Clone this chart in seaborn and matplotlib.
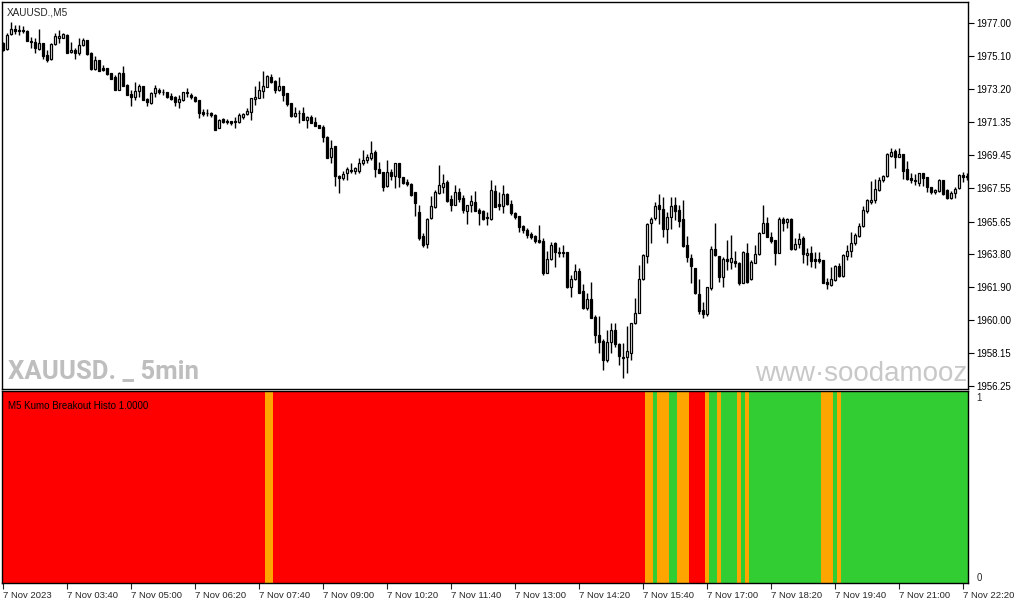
import numpy as np
import pandas as pd
import seaborn as sns
import matplotlib.pyplot as plt

# XAUUSD M5 candles, 7 Nov 2023 02:20 -> 22:25 (one bar per 5 minutes)
opens = [
    1975.88, 1975.50, 1976.35, 1976.64, 1976.60, 1976.60, 1976.54, 1975.99, 1975.90, 1975.50,
    1975.84, 1975.17, 1974.92, 1975.80, 1976.12, 1976.16, 1976.31, 1975.32, 1975.46, 1975.30,
    1975.74, 1976.03, 1975.30, 1974.35, 1974.88, 1974.45, 1974.41, 1974.12, 1973.90, 1973.17,
    1974.16, 1973.46, 1972.96, 1972.79, 1973.11, 1973.40, 1972.66, 1972.41, 1972.98, 1973.17,
    1973.08, 1973.08, 1972.83, 1972.79, 1972.50, 1972.60, 1973.04, 1972.90, 1972.79, 1972.60,
    1971.90, 1971.86, 1971.88, 1971.74, 1971.02, 1971.50, 1971.40, 1971.40, 1971.40, 1971.36,
    1971.61, 1971.78, 1971.93, 1972.67, 1972.73, 1973.13, 1973.36, 1973.93, 1973.70, 1973.17,
    1973.40, 1973.02, 1972.41, 1971.69, 1971.84, 1971.88, 1971.46, 1971.65, 1971.36, 1971.17,
    1971.07, 1970.50, 1969.32, 1969.99, 1968.26, 1968.16, 1968.41, 1968.60, 1968.54, 1968.56,
    1968.98, 1969.17, 1969.27, 1969.65, 1968.64, 1968.50, 1967.70, 1968.50, 1968.27, 1968.98,
    1968.22, 1967.93, 1967.80, 1967.36, 1966.22, 1964.83, 1964.35, 1965.84, 1966.50, 1967.27,
    1967.60, 1967.93, 1966.94, 1966.60, 1967.36, 1966.98, 1966.28, 1966.60, 1966.79, 1966.31,
    1966.26, 1965.90, 1965.78, 1967.40, 1966.66, 1966.54, 1967.21, 1966.66, 1966.12, 1965.97,
    1965.40, 1965.17, 1964.94, 1964.83, 1964.60, 1964.54, 1962.73, 1963.50, 1964.41, 1963.93,
    1963.93, 1963.93, 1961.93, 1962.37, 1962.85, 1961.69, 1960.70, 1961.23, 1960.22, 1959.17,
    1958.83, 1957.74, 1958.75, 1959.46, 1958.64, 1957.93, 1957.90, 1958.16, 1959.84, 1960.45,
    1962.35, 1963.69, 1965.55, 1965.84, 1966.60, 1966.35, 1965.21, 1965.90, 1966.60, 1966.31,
    1965.78, 1964.31, 1963.55, 1962.98, 1961.50, 1960.60, 1960.35, 1961.84, 1964.07, 1963.69,
    1962.47, 1963.50, 1963.36, 1963.40, 1963.27, 1962.16, 1963.88, 1962.35, 1963.30, 1963.80,
    1965.02, 1965.59, 1964.75, 1964.60, 1963.88, 1965.78, 1965.65, 1965.78, 1964.07, 1964.37,
    1964.70, 1963.74, 1963.84, 1963.50, 1963.50, 1963.46, 1962.22, 1962.03, 1962.31, 1963.11,
    1962.56, 1963.70, 1963.99, 1964.41, 1964.83, 1965.40, 1966.28, 1966.79, 1966.88, 1967.46,
    1968.00, 1968.26, 1969.42, 1969.69, 1969.36, 1969.51, 1968.64, 1968.12, 1968.03, 1967.88,
    1968.41, 1968.18, 1967.60, 1967.36, 1967.42, 1968.03, 1967.46, 1966.98, 1967.27, 1967.55,
    1968.31, 1968.26,
]
highs = [
    1975.93, 1976.41, 1977.08, 1976.88, 1976.88, 1976.85, 1976.58, 1976.22, 1976.16, 1976.66,
    1975.84, 1975.46, 1975.84, 1976.41, 1976.60, 1976.41, 1976.35, 1975.93, 1975.55, 1976.12,
    1976.12, 1976.03, 1975.32, 1975.13, 1974.90, 1974.60, 1974.41, 1974.14, 1974.03, 1974.22,
    1974.56, 1973.50, 1973.17, 1973.65, 1973.50, 1973.40, 1972.70, 1973.04, 1973.46, 1973.27,
    1973.23, 1973.08, 1972.98, 1972.83, 1972.89, 1973.08, 1973.27, 1973.02, 1972.83, 1972.60,
    1972.07, 1972.07, 1971.93, 1971.78, 1971.50, 1971.59, 1971.50, 1971.40, 1971.61, 1971.84,
    1971.88, 1972.12, 1972.73, 1973.40, 1973.69, 1974.26, 1974.03, 1974.09, 1973.74, 1973.93,
    1973.40, 1973.02, 1972.45, 1972.18, 1972.03, 1972.22, 1971.69, 1971.74, 1971.65, 1971.17,
    1971.17, 1970.54, 1970.31, 1969.99, 1968.31, 1968.54, 1968.75, 1969.02, 1968.75, 1969.27,
    1969.74, 1969.51, 1970.26, 1969.74, 1969.08, 1968.50, 1969.17, 1968.64, 1969.02, 1968.98,
    1968.22, 1968.07, 1967.84, 1967.36, 1966.60, 1964.98, 1965.84, 1967.11, 1967.46, 1968.89,
    1968.37, 1968.03, 1967.17, 1967.74, 1967.55, 1967.17, 1966.60, 1967.17, 1967.40, 1966.41,
    1966.31, 1966.22, 1968.03, 1967.74, 1967.36, 1967.74, 1967.27, 1966.89, 1966.18, 1965.97,
    1965.46, 1965.27, 1965.08, 1964.89, 1965.46, 1964.70, 1963.99, 1964.50, 1964.50, 1964.22,
    1964.31, 1963.93, 1962.60, 1963.23, 1962.98, 1962.09, 1961.55, 1962.22, 1960.31, 1960.26,
    1958.93, 1959.46, 1959.84, 1959.88, 1958.70, 1958.70, 1959.69, 1959.84, 1961.27, 1963.17,
    1963.80, 1965.59, 1965.90, 1966.79, 1967.23, 1967.04, 1966.22, 1967.04, 1967.04, 1966.60,
    1966.89, 1964.83, 1963.80, 1962.98, 1962.35, 1961.08, 1961.93, 1964.26, 1965.59, 1963.69,
    1963.65, 1964.60, 1964.88, 1963.99, 1963.36, 1963.97, 1964.45, 1963.46, 1964.31, 1965.08,
    1966.60, 1965.93, 1965.08, 1964.60, 1965.90, 1965.90, 1965.84, 1965.84, 1964.70, 1965.02,
    1964.83, 1964.12, 1964.26, 1963.93, 1963.93, 1963.46, 1962.41, 1963.08, 1963.17, 1963.27,
    1963.80, 1964.31, 1965.08, 1965.02, 1965.59, 1966.54, 1966.92, 1967.99, 1968.07, 1968.22,
    1968.31, 1969.59, 1969.84, 1969.78, 1969.84, 1969.51, 1969.13, 1968.45, 1968.37, 1968.45,
    1968.45, 1968.18, 1967.65, 1967.50, 1968.07, 1968.03, 1967.50, 1967.42, 1967.61, 1968.35,
    1968.50, 1968.45,
]
lows = [
    1975.42, 1975.46, 1976.31, 1976.35, 1976.31, 1976.41, 1975.95, 1975.59, 1975.27, 1975.46,
    1974.92, 1974.75, 1974.89, 1975.74, 1975.84, 1976.12, 1975.27, 1975.27, 1974.92, 1975.17,
    1975.70, 1975.17, 1974.33, 1974.31, 1974.24, 1974.28, 1974.03, 1973.78, 1973.17, 1973.17,
    1973.42, 1972.87, 1972.27, 1972.60, 1972.79, 1972.58, 1972.27, 1972.39, 1972.79, 1972.92,
    1972.88, 1972.70, 1972.60, 1972.26, 1972.12, 1972.56, 1972.79, 1972.64, 1972.50, 1971.55,
    1971.69, 1971.69, 1971.65, 1970.89, 1970.98, 1971.27, 1971.21, 1971.17, 1971.02, 1971.30,
    1971.50, 1971.74, 1971.46, 1972.31, 1972.69, 1972.73, 1973.32, 1973.59, 1973.02, 1973.13,
    1972.56, 1972.26, 1971.61, 1971.61, 1971.30, 1971.46, 1970.98, 1971.27, 1971.11, 1970.98,
    1970.22, 1969.30, 1968.98, 1967.70, 1967.27, 1968.03, 1968.03, 1968.45, 1968.37, 1968.41,
    1968.89, 1968.98, 1969.17, 1968.22, 1968.41, 1967.40, 1967.65, 1968.03, 1967.55, 1967.65,
    1967.80, 1967.69, 1967.11, 1965.97, 1964.60, 1964.22, 1964.16, 1965.78, 1966.41, 1967.23,
    1967.27, 1966.79, 1966.28, 1966.60, 1966.75, 1966.12, 1965.50, 1966.22, 1966.28, 1965.46,
    1965.74, 1965.46, 1965.74, 1966.50, 1966.31, 1966.12, 1966.60, 1966.03, 1965.78, 1965.08,
    1964.98, 1964.70, 1964.64, 1964.45, 1964.45, 1962.60, 1962.69, 1963.46, 1963.04, 1963.65,
    1963.61, 1961.84, 1961.36, 1962.31, 1961.59, 1960.66, 1960.60, 1960.12, 1958.70, 1958.16,
    1957.17, 1957.65, 1958.16, 1958.50, 1957.46, 1956.70, 1956.98, 1957.74, 1959.80, 1960.41,
    1962.31, 1963.31, 1964.41, 1965.74, 1965.50, 1964.79, 1964.45, 1965.21, 1965.74, 1965.32,
    1964.18, 1963.36, 1962.12, 1961.50, 1960.37, 1960.12, 1960.26, 1961.74, 1963.69, 1962.22,
    1961.90, 1962.88, 1962.92, 1963.08, 1962.03, 1962.12, 1962.12, 1962.31, 1963.27, 1963.74,
    1964.98, 1964.75, 1964.41, 1963.17, 1963.84, 1965.13, 1965.27, 1964.03, 1964.03, 1964.12,
    1963.27, 1963.17, 1963.08, 1962.98, 1963.27, 1962.12, 1961.78, 1961.97, 1962.28, 1962.50,
    1962.50, 1963.46, 1963.65, 1964.31, 1964.79, 1965.36, 1966.16, 1966.66, 1966.73, 1967.42,
    1967.93, 1968.22, 1969.36, 1968.70, 1969.32, 1968.07, 1968.03, 1967.84, 1967.74, 1967.69,
    1967.69, 1967.36, 1967.21, 1967.23, 1967.36, 1967.17, 1966.94, 1966.94, 1966.98, 1967.50,
    1967.93, 1968.03,
]
closes = [
    1975.46, 1976.31, 1976.64, 1976.54, 1976.54, 1976.55, 1975.97, 1975.90, 1975.55, 1975.84,
    1975.13, 1974.89, 1975.78, 1976.28, 1976.28, 1976.35, 1975.30, 1975.46, 1975.27, 1975.74,
    1976.03, 1975.21, 1974.35, 1974.88, 1974.26, 1974.31, 1974.08, 1973.80, 1973.19, 1974.16,
    1973.42, 1972.89, 1972.79, 1973.11, 1973.40, 1972.60, 1972.47, 1973.02, 1973.30, 1973.08,
    1973.04, 1972.79, 1972.64, 1972.50, 1972.66, 1973.04, 1973.00, 1972.75, 1972.54, 1971.84,
    1971.78, 1971.84, 1971.74, 1970.89, 1971.46, 1971.32, 1971.35, 1971.27, 1971.32, 1971.74,
    1971.78, 1971.97, 1972.69, 1972.79, 1973.17, 1973.40, 1973.99, 1973.65, 1973.17, 1973.40,
    1972.89, 1972.35, 1971.69, 1971.88, 1971.88, 1971.46, 1971.65, 1971.30, 1971.11, 1971.02,
    1970.50, 1969.30, 1969.84, 1968.27, 1968.16, 1968.37, 1968.64, 1968.54, 1968.70, 1968.98,
    1969.17, 1969.36, 1969.55, 1968.64, 1968.45, 1967.65, 1968.47, 1968.27, 1968.98, 1968.18,
    1967.88, 1967.78, 1967.17, 1966.69, 1964.70, 1964.32, 1965.78, 1966.54, 1967.36, 1967.74,
    1967.88, 1966.83, 1966.60, 1967.36, 1966.94, 1966.31, 1966.60, 1966.83, 1966.28, 1966.16,
    1965.78, 1965.84, 1967.46, 1966.50, 1966.54, 1967.21, 1966.66, 1966.16, 1965.93, 1965.36,
    1965.17, 1964.89, 1964.75, 1964.54, 1964.47, 1962.73, 1963.50, 1964.31, 1963.93, 1963.88,
    1963.84, 1961.90, 1962.35, 1962.83, 1961.59, 1960.70, 1961.23, 1960.12, 1959.17, 1958.79,
    1957.74, 1958.75, 1959.46, 1958.64, 1957.97, 1957.88, 1958.26, 1959.84, 1960.45, 1962.35,
    1963.74, 1965.50, 1965.78, 1966.54, 1966.35, 1965.21, 1965.93, 1966.54, 1966.28, 1965.70,
    1964.26, 1963.61, 1963.11, 1961.55, 1960.56, 1960.37, 1961.90, 1964.07, 1963.74, 1962.50,
    1963.50, 1963.42, 1963.55, 1963.27, 1962.12, 1963.93, 1962.22, 1963.36, 1963.80, 1965.02,
    1965.59, 1964.75, 1964.56, 1963.88, 1965.78, 1965.55, 1965.78, 1964.07, 1964.37, 1964.64,
    1963.80, 1963.84, 1963.42, 1963.42, 1963.42, 1962.16, 1962.09, 1962.35, 1963.11, 1962.56,
    1963.74, 1963.99, 1964.41, 1964.88, 1965.40, 1966.31, 1966.88, 1966.88, 1967.50, 1968.03,
    1968.26, 1969.50, 1969.61, 1969.36, 1969.51, 1968.56, 1968.07, 1968.03, 1967.97, 1968.41,
    1968.12, 1967.60, 1967.36, 1967.46, 1968.03, 1967.23, 1966.98, 1967.30, 1967.50, 1968.31,
    1968.18, 1968.20,
]

# Kumo breakout histogram: runs of (state, number of bars)
signal_runs = [
    ("down", 66), ("flat", 2), ("down", 93), ("flat", 2), ("up", 1), ("flat", 3),
    ("up", 2), ("flat", 3), ("down", 4), ("flat", 1), ("up", 2), ("flat", 1),
    ("up", 4), ("flat", 1), ("up", 1), ("flat", 1), ("up", 18), ("flat", 3),
    ("up", 1), ("flat", 1), ("up", 33),
]
state_colors = {"down": "#FF0000", "flat": "#FFA500", "up": "#32CD32"}

price_ticks = [1977.00, 1975.10, 1973.20, 1971.35, 1969.45, 1967.55,
               1965.65, 1963.80, 1961.90, 1960.00, 1958.15, 1956.25]
time_tick_bars = [0, 16, 32, 48, 64, 80, 96, 112, 128, 144, 160, 176, 192, 208, 224, 240]
time_tick_labels = ["7 Nov 2023", "7 Nov 03:40", "7 Nov 05:00", "7 Nov 06:20",
                    "7 Nov 07:40", "7 Nov 09:00", "7 Nov 10:20", "7 Nov 11:40",
                    "7 Nov 13:00", "7 Nov 14:20", "7 Nov 15:40", "7 Nov 17:00",
                    "7 Nov 18:20", "7 Nov 19:40", "7 Nov 21:00", "7 Nov 22:20"]

sns.set_style("white")
plt.rcParams['font.family'] = ['Liberation Sans', 'DejaVu Sans']

df = pd.DataFrame({"open": opens, "high": highs, "low": lows, "close": closes})
df["bar"] = np.arange(len(df))
df["bull"] = df["close"] >= df["open"]

states = []
for st, n in signal_runs:
    states += [st] * n
hist = pd.DataFrame({"bar": np.arange(len(states)), "value": 1.0, "state": states})

fig = plt.figure(figsize=(10.15, 6.05), dpi=100)
W, H = 1015.0, 605.0
ax1 = fig.add_axes([2 / W, 1 - 389 / H, 966 / W, 387 / H])
ax2 = fig.add_axes([2 / W, 1 - 583 / H, 966 / W, 192 / H])

# candles: wicks then bodies
ax1.vlines(df["bar"], df["low"], df["high"], color="black", linewidth=1, zorder=2)
body_bottom = df[["open", "close"]].min(axis=1)
body_height = (df["close"] - df["open"]).abs()
ax1.bar(df["bar"], body_height, bottom=body_bottom, width=0.55,
        color=np.where(df["bull"], "white", "black"), edgecolor="black",
        linewidth=0.9, zorder=3)

xlim = (-0.35, 241.2)
ax1.set_xlim(*xlim)
ax1.set_ylim(1956.08, 1978.2)
ax1.set_xticks([])
ax1.yaxis.tick_right()
ax1.set_yticks(price_ticks)
ax1.set_yticklabels([f"{v:.2f}" for v in price_ticks])
ax1.tick_params(axis="y", direction="out", length=4, width=0.8, pad=2,
                labelsize=6.9, colors="black", right=True)

ax1.text(0.005, 0.985, "XAUUSD.,M5", transform=ax1.transAxes, fontsize=7.2,
         ha="left", va="top", zorder=5)
ax1.text(0.006, 0.012, "XAUUSD. _ 5min", transform=ax1.transAxes,
         family=["Roboto", "DejaVu Sans"], fontweight="bold", fontsize=18.5,
         color="#BEBEBE", ha="left", va="bottom", zorder=1)
ax1.text(0.7795, 0.004, "www·soodamooz.com", transform=ax1.transAxes,
         fontsize=20.0, color="#C8C8C8", ha="left", va="bottom", zorder=1,
         clip_on=True)

# histogram panel
sns.barplot(data=hist, x="bar", y="value", hue="state", palette=state_colors,
            dodge=False, width=1.0, saturation=1, errorbar=None, legend=False,
            linewidth=0, ax=ax2)
for p in ax2.patches:
    p.set_antialiased(False)
ax2.set_xlim(*xlim)
ax2.set_ylim(0, 1)
ax2.set_xlabel("")
ax2.set_ylabel("")
ax2.yaxis.tick_right()
ax2.set_yticks([0.97, 0.03])
ax2.set_yticklabels(["1", "0"])
ax2.tick_params(axis="y", direction="out", length=0, pad=6, labelsize=6.9)
ax2.set_xticks(time_tick_bars)
ax2.set_xticklabels(time_tick_labels, ha="left")
ax2.tick_params(axis="x", direction="out", length=4, width=0.8, pad=2,
                labelsize=6.8, bottom=True)
ax2.text(0.006, 0.95, "M5 Kumo Breakout Histo 1.0000", transform=ax2.transAxes,
         fontsize=7, ha="left", va="top", color="black")

for ax in (ax1, ax2):
    for s in ax.spines.values():
        s.set_color("black")
        s.set_linewidth(1)
        s.set_visible(True)

fig.savefig("out.png", dpi=100)
